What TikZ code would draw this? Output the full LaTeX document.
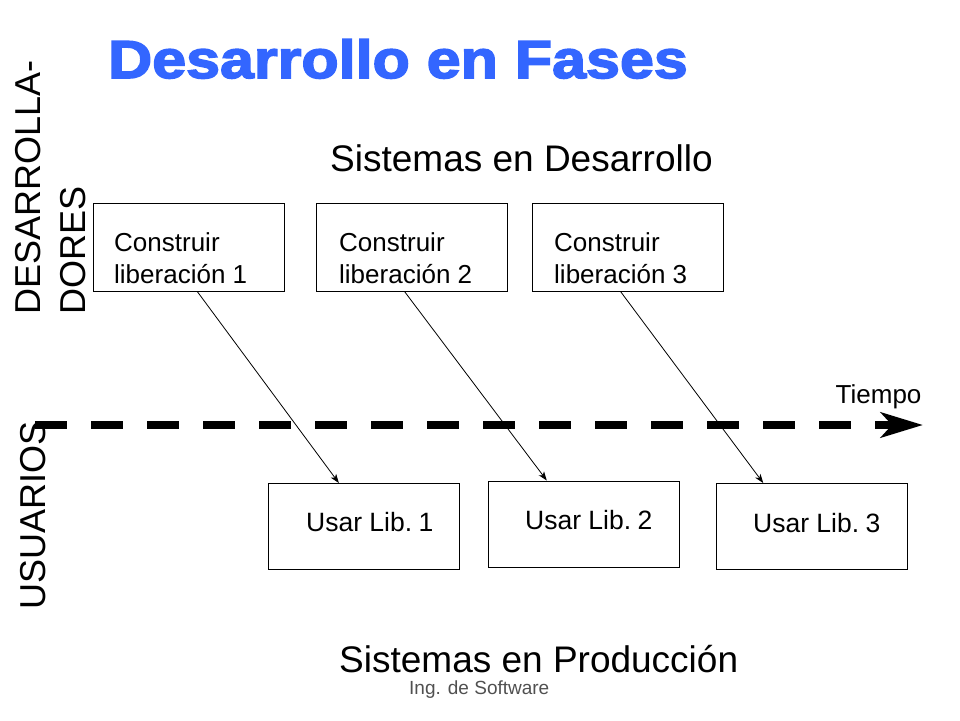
\documentclass[tikz,border=0pt]{standalone}
\usepackage{fontspec}
\setmainfont{Liberation Sans}
\newfontfamily\titlefont[FakeStretch=1.14,FakeBold=3]{Liberation Sans}
\usetikzlibrary{arrows.meta,calc}
\definecolor{titleblue}{RGB}{51,102,255}
\definecolor{footgray}{RGB}{80,80,80}
\begin{document}
\begin{tikzpicture}[x=1pt,y=-1pt,
  box/.style={draw, line width=1pt, inner sep=0pt, minimum width=191pt, minimum height=88pt, anchor=north west},
  ubox/.style={box, minimum height=86pt},
  boxtxt/.style={inner sep=0pt, anchor=base west, font=\fontsize{26}{32}\selectfont},
  usetxt/.style={inner sep=0pt, anchor=base west, font=\fontsize{26.5}{32}\selectfont},
  subtitle/.style={inner sep=0pt, anchor=base west, font=\fontsize{37}{44}\selectfont},
  sidetxt/.style={inner sep=0pt, anchor=base west, rotate=90, font=\fontsize{36}{43}\selectfont},
  conn/.style={line width=0.8pt, -{Stealth[length=9pt,width=6.5pt,inset=2.5pt]}},
  timeline/.style={line width=8.6pt, dash pattern=on 32pt off 24pt, -{Stealth[length=42pt,width=25pt,inset=11pt]}}
]
\useasboundingbox (0,0) rectangle (960,720);

% title
\node[inner sep=0pt, anchor=base west, text=titleblue, font=\titlefont\bfseries\fontsize{53.5}{60}\selectfont] (title) at (108,78) {Desarrollo en Fases};

% subtitles
\node[subtitle] (sdev) at (330,171.5) {Sistemas en Desarrollo};
\node[subtitle] (sprod) at (339,672) {Sistemas en Producción};
\node[inner sep=0pt, anchor=base west, text=footgray, font=\fontsize{19}{22}\selectfont] (foot) at (409,694) {Ing. de Software};

% side labels
\node[sidetxt] (dev1) at (40,314.5) {DESARROLLA-};
\node[sidetxt] (dev2) at (85,314.5) {DORES};
\node[sidetxt] (usr) at (45,609.5) {USUARIOS};

% top boxes
\node[box] (b1) at (93,202.5) {};
\node[box] (b2) at (316,202.5) {};
\node[box] (b3) at (532,202.5) {};
\node[boxtxt] (tb1) at (114,251.7) {\parbox[t]{165pt}{Construir\\liberación 1}};
\node[boxtxt] (tb2) at (339,251.7) {\parbox[t]{165pt}{Construir\\liberación 2}};
\node[boxtxt] (tb3) at (554,251.7) {\parbox[t]{165pt}{Construir\\liberación 3}};

% bottom boxes
\node[ubox] (u1) at (268,483) {};
\node[ubox, minimum width=191.5pt] (u2) at (487.5,480.5) {};
\node[ubox] (u3) at (716,483) {};
\node[usetxt] (tu1) at (306,531.7) {Usar Lib.\kern-1pt\ 1};
\node[usetxt] (tu2) at (525,529) {Usar Lib.\kern-1pt\ 2};
\node[usetxt] (tu3) at (753,532.5) {Usar Lib.\kern-1pt\ 3};

% time line
\coordinate (ts) at (35,425);
\coordinate (te) at (923,425);
\draw[timeline] (ts) -- (te);
\node[inner sep=0pt, anchor=base west, font=\fontsize{26}{30}\selectfont] (tiempo) at (835.5,403.3) {Tiempo};

% connectors
\draw[conn] ($(b1.south west)!0.543!(b1.south east)$) -- ($(u1.north west)!0.369!(u1.north east)$);
\draw[conn] ($(b2.south west)!0.461!(b2.south east)$) -- ($(u2.north west)!0.308!(u2.north east)$);
\draw[conn] ($(b3.south west)!0.461!(b3.south east)$) -- ($(u3.north west)!0.246!(u3.north east)$);
\end{tikzpicture}
\end{document}
